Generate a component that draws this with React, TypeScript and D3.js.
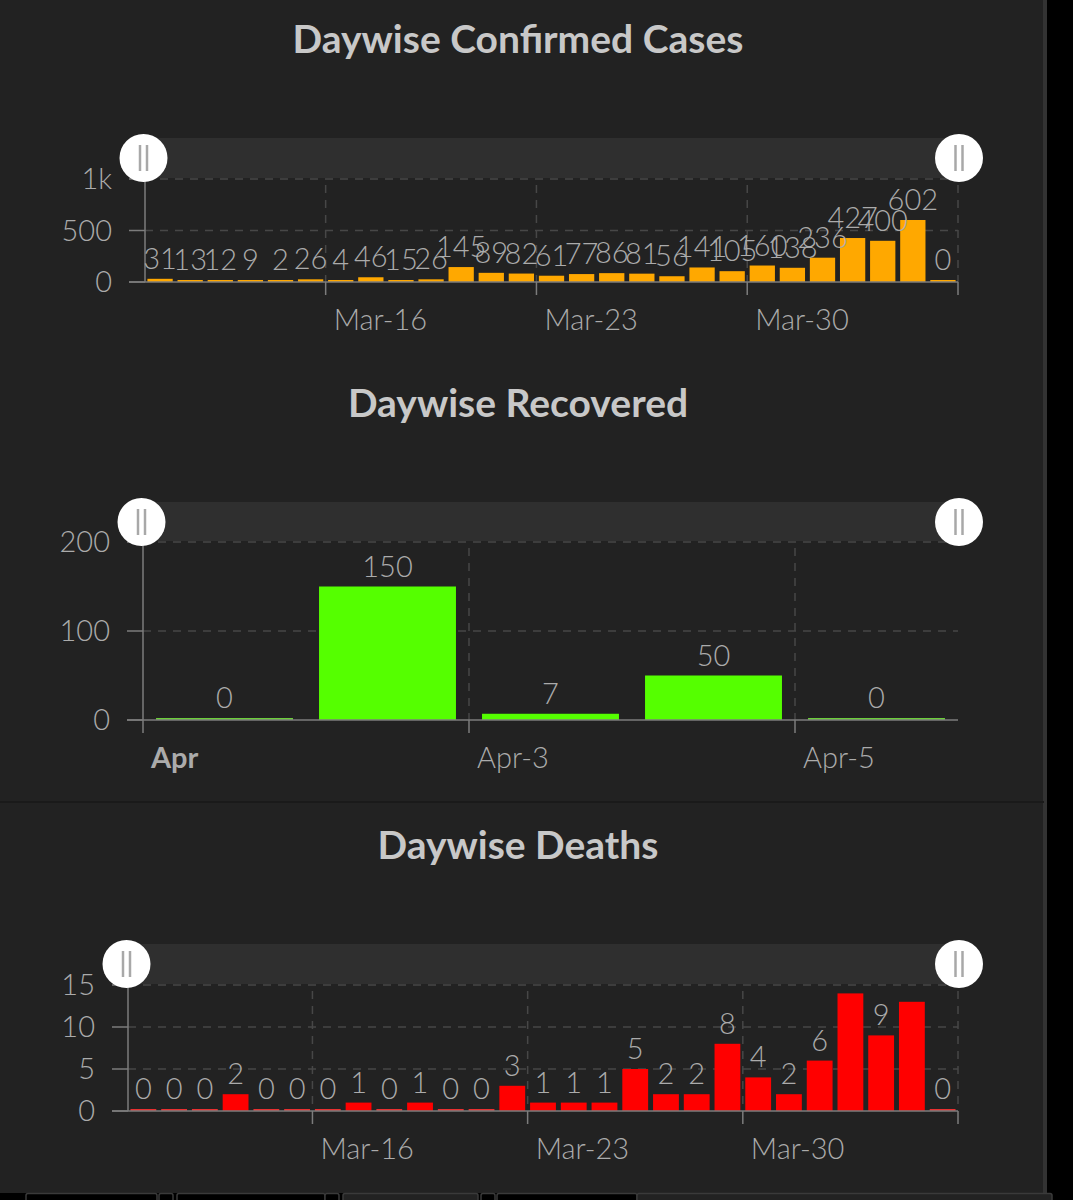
import React from 'react';
import * as d3 from 'd3';

// ---------- data ----------
const marchDates = [
  '2020-03-10', '2020-03-11', '2020-03-12', '2020-03-13', '2020-03-14', '2020-03-15',
  '2020-03-16', '2020-03-17', '2020-03-18', '2020-03-19', '2020-03-20', '2020-03-21',
  '2020-03-22', '2020-03-23', '2020-03-24', '2020-03-25', '2020-03-26', '2020-03-27',
  '2020-03-28', '2020-03-29', '2020-03-30', '2020-03-31', '2020-04-01', '2020-04-02',
  '2020-04-03', '2020-04-04', '2020-04-05',
];
const confirmedValues = [
  31, 13, 12, 9, 2, 26, 4, 46, 15, 26, 145, 89, 82, 61, 77, 86, 81, 56, 141, 105, 160, 138, 236, 427, 400, 602, 0,
];
const deathValues = [
  0, 0, 0, 2, 0, 0, 0, 1, 0, 1, 0, 0, 3, 1, 1, 1, 5, 2, 2, 8, 4, 2, 6, 14, 9, 13, 0,
];
const aprilDates = ['2020-04-01', '2020-04-02', '2020-04-03', '2020-04-04', '2020-04-05'];
const recoveredValues = [0, 150, 7, 50, 0];

const confirmedYTicks = [0, 500, 1000];
const confirmedYLabels = ['0', '500', '1k'];
const recoveredYTicks = [0, 100, 200];
const recoveredYLabels = ['0', '100', '200'];
const deathYTicks = [0, 5, 10, 15];
const deathYLabels = ['0', '5', '10', '15'];

const weeklyTicks = ['2020-03-16', '2020-03-23', '2020-03-30', '2020-04-06'];
const weeklyTickLabels = ['Mar-16', 'Mar-23', 'Mar-30', ''];
const aprilTicks = ['2020-04-01', '2020-04-03', '2020-04-05'];
const aprilTickLabels = ['Apr', 'Apr-3', 'Apr-5'];

const titles = ['Daywise Confirmed Cases', 'Daywise Recovered', 'Daywise Deaths'];

// ---------- style ----------
const BG = '#222222';
const TEXT = '#ababab';
const TITLE = '#c8c8c8';
const AXIS = '#7c7c7c';
const GRID = '#474747';
const FONT = "Lato, 'Open Sans', 'DejaVu Sans', sans-serif";

const parse = (s: string) => new Date(s + 'T00:00:00Z');
const DAY = 86400000;

type ChartProps = {
  title: string;
  titleY: number;
  dates: string[];
  values: number[];
  color: string;
  zeroColor: string;
  left: number;
  right: number;
  base: number;
  topY: number;
  yMax: number;
  yTicks: number[];
  yLabels: string[];
  xTicks: string[];
  xLabels: string[];
  domainStart: string;
  domainEnd: string;
  sliderTop: number;
  sliderBottom: number;
  handleCy: number;
  firstBold?: boolean;
  yAxisTick?: boolean;
};

function Chart(p: ChartProps) {
  const x = d3
    .scaleUtc()
    .domain([parse(p.domainStart), parse(p.domainEnd)])
    .range([p.left, p.right]);
  const y = d3.scaleLinear().domain([0, p.yMax]).range([p.base, p.topY]);
  const dayW = x(new Date(parse(p.domainStart).getTime() + DAY)) - p.left;
  const barW = dayW * 0.84;

  return (
    <g>
      <text
        x={518}
        y={p.titleY}
        textAnchor="middle"
        fill={TITLE}
        fontFamily={FONT}
        fontWeight={700}
        fontSize={39}
      >
        {p.title}
      </text>

      {/* slider band */}
      <rect x={p.left} y={p.sliderTop} width={p.right - p.left} height={p.sliderBottom - p.sliderTop} fill="#2f2f2f" />

      {/* horizontal grid */}
      {p.yTicks.map((t, i) =>
        t === 0 ? null : (
          <line key={'hg' + i} x1={p.left} x2={p.right} y1={y(t)} y2={y(t)} stroke={GRID} strokeWidth={1.5} strokeDasharray="8,7" />
        )
      )}
      {/* vertical grid */}
      {p.xTicks.map((t, i) => {
        const xx = x(parse(t));
        if (Math.abs(xx - p.left) < 2) return null;
        return (
          <g key={'vg' + i}>
            <line x1={xx} x2={xx} y1={p.topY + 6} y2={p.base} stroke={GRID} strokeWidth={1.5} strokeDasharray="8,7" />
            <line x1={xx} x2={xx} y1={p.base} y2={p.base + 13} stroke={AXIS} strokeWidth={1.5} />
          </g>
        );
      })}

      {/* bars */}
      {p.values.map((v, i) => {
        const c = x(new Date(parse(p.dates[i]).getTime() + DAY / 2));
        const h = Math.max(p.base - y(v), 2);
        return <rect key={'b' + i} x={c - barW / 2} y={p.base - h} width={barW} height={h} fill={v === 0 ? p.zeroColor : p.color} />;
      })}

      {/* axes */}
      <line x1={p.left - 16} x2={p.right} y1={p.base} y2={p.base} stroke={AXIS} strokeWidth={1.5} />
      <line x1={p.left} x2={p.left} y1={p.topY} y2={p.yAxisTick ? p.base + 13 : p.base} stroke={AXIS} strokeWidth={1.5} />
      {p.yTicks.map((t, i) => (
        <g key={'yt' + i}>
          <line x1={p.left - 16} x2={p.left} y1={y(t)} y2={y(t)} stroke={AXIS} strokeWidth={1.5} />
          <text x={p.left - 33} y={y(t)} dy="0.36em" textAnchor="end" fill={TEXT} fontFamily={FONT} fontWeight={300} fontSize={29}>
            {p.yLabels[i]}
          </text>
        </g>
      ))}
      {p.xTicks.map((t, i) => (
        <text
          key={'xl' + i}
          x={x(parse(t)) + 8}
          y={p.base + 48}
          fill={TEXT}
          fontFamily={FONT}
          fontSize={29}
          fontWeight={p.firstBold && i === 0 ? 700 : 300}
        >
          {p.xLabels[i]}
        </text>
      ))}

      {/* value labels */}
      {p.values.map((v, i) => {
        const c = x(new Date(parse(p.dates[i]).getTime() + DAY / 2));
        const h = Math.max(p.base - y(v), 2);
        const by = p.base - h - 10;
        if (by - 20 < p.topY) return null;
        return (
          <text key={'vl' + i} x={c} y={by} textAnchor="middle" fill={TEXT} fontFamily={FONT} fontWeight={300} fontSize={29}>
            {v}
          </text>
        );
      })}

      {/* handles */}
      {[p.left - 1.5, p.right + 1].map((hx, i) => (
        <g key={'h' + i}>
          <circle cx={hx} cy={p.handleCy} r={24} fill="#ffffff" />
          <line x1={hx - 3.5} x2={hx - 3.5} y1={p.handleCy - 13} y2={p.handleCy + 13} stroke="#a8a8a8" strokeWidth={2.5} />
          <line x1={hx + 3.5} x2={hx + 3.5} y1={p.handleCy - 13} y2={p.handleCy + 13} stroke="#a8a8a8" strokeWidth={2.5} />
        </g>
      ))}
    </g>
  );
}

export default function App() {
  return (
    <svg
      width={1080}
      height={1200}
      style={{ position: 'absolute', left: 0, top: 0, display: 'block' }}
    >
      <rect x={0} y={0} width={1080} height={1200} fill="#000" />
      <rect x={0} y={0} width={1044} height={1193} fill={BG} />
      <rect x={1043} y={0} width={4} height={1193} fill="#333" />
      <rect x={1073} y={0} width={7} height={1200} fill="#fff" />
      <line x1={0} x2={1044} y1={802} y2={802} stroke="#1a1a1a" strokeWidth={2} />

      {/* bottom tab strip */}
      <rect x={0} y={1193} width={1073} height={7} fill="#000" />
      {[
        [26, 157],
        [159, 173],
        [177, 325],
        [325, 339],
        [343, 478],
        [481, 495],
        [497, 637],
        [637, 1052],
      ].map(([a, b], i) => (
        <rect key={'tab' + i} x={a} y={1193.5} width={b - a} height={10} rx={2} fill={i === 4 || i === 7 ? '#222' : '#000'} stroke="#3a3a3a" strokeWidth={1.5} />
      ))}

      <Chart
        title={titles[0]}
        titleY={53}
        dates={marchDates}
        values={confirmedValues}
        color="#ffa800"
        zeroColor="#ffa800"
        left={145}
        right={958}
        base={282}
        topY={179}
        yMax={1000}
        yTicks={confirmedYTicks}
        yLabels={confirmedYLabels}
        xTicks={weeklyTicks}
        xLabels={weeklyTickLabels}
        domainStart="2020-03-10"
        domainEnd="2020-04-06"
        sliderTop={138}
        sliderBottom={178}
        handleCy={158}
      />
      <Chart
        title={titles[1]}
        titleY={417}
        dates={aprilDates}
        values={recoveredValues}
        color="#55ff00"
        zeroColor="#6ccf3a"
        left={143}
        right={958}
        base={720}
        topY={542}
        yMax={200}
        yTicks={recoveredYTicks}
        yLabels={recoveredYLabels}
        xTicks={aprilTicks}
        xLabels={aprilTickLabels}
        domainStart="2020-04-01"
        domainEnd="2020-04-06"
        sliderTop={502}
        sliderBottom={541}
        handleCy={522}
        firstBold
        yAxisTick
      />
      <Chart
        title={titles[2]}
        titleY={859}
        dates={marchDates}
        values={deathValues}
        color="#ff0000"
        zeroColor="#e83030"
        left={128}
        right={958}
        base={1111}
        topY={985}
        yMax={15}
        yTicks={deathYTicks}
        yLabels={deathYLabels}
        xTicks={weeklyTicks}
        xLabels={weeklyTickLabels}
        domainStart="2020-03-10"
        domainEnd="2020-04-06"
        sliderTop={944}
        sliderBottom={984}
        handleCy={964}
      />
    </svg>
  );
}
